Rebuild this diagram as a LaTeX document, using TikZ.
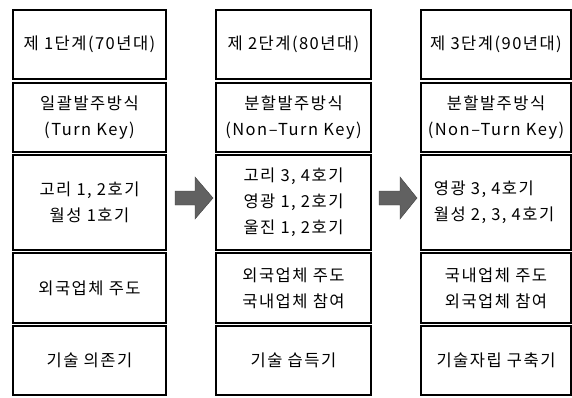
\documentclass[tikz,border=0pt]{standalone}
\usepackage{fontspec}
\setmainfont{Noto Sans CJK KR}[LetterSpace=9]
\usetikzlibrary{positioning}
\begin{document}
\begin{tikzpicture}[x=1pt,y=-1pt,
  box/.style={draw=black, line width=1.7pt, rectangle, inner sep=0pt, align=center,
    font=\fontsize{16.5}{26}\selectfont},
  blockarrow/.style={fill=black!62, draw=black!75, line width=0.4pt}]
\useasboundingbox (0,0) rectangle (572,397);
% column 1
\node[box, minimum width=153pt, minimum height=69pt] (c1r1) at (89.5,44.5) {제 1단계(70년대)};
\node[box, minimum width=153pt, minimum height=69pt] (c1r2) at (89.5,117.5) {일괄발주방식\\(Turn Key)};
\node[box, minimum width=153pt, minimum height=95pt] (c1r3) at (89.5,202.5) {고리 1, 2호기\\월성 1호기};
\node[box, minimum width=153pt, minimum height=70pt] (c1r4) at (89.5,288) {외국업체 주도};
\node[box, minimum width=153pt, minimum height=69pt] (c1r5) at (89.5,360.5) {기술 의존기};
% column 2
\node[box, minimum width=155pt, minimum height=69pt] (c2r1) at (293.5,44.5) {제 2단계(80년대)};
\node[box, minimum width=155pt, minimum height=69pt] (c2r2) at (293.5,117.5) {분할발주방식\\(Non–Turn Key)};
\node[box, minimum width=155pt, minimum height=95pt] (c2r3) at (293.5,202.5) {고리 3, 4호기\\영광 1, 2호기\\울진 1, 2호기};
\node[box, minimum width=155pt, minimum height=70pt] (c2r4) at (293.5,288) {외국업체 주도\\국내업체 참여};
\node[box, minimum width=155pt, minimum height=69pt] (c2r5) at (293.5,360.5) {기술 습득기};
% column 3
\node[box, minimum width=150pt, minimum height=69pt] (c3r1) at (496,44.5) {제 3단계(90년대)};
\node[box, minimum width=150pt, minimum height=69pt] (c3r2) at (496,117.5) {분할발주방식\\(Non–Turn Key)};
\node[box, minimum width=150pt, minimum height=95pt] (c3r3) at (496,202.5) {};
\node[box, draw=none, align=left, anchor=west] (c3r3t) at (433,202.5) {영광 3, 4호기\\월성 2, 3, 4호기};
\node[box, minimum width=150pt, minimum height=70pt] (c3r4) at (496,288) {국내업체 주도\\외국업체 참여};
\node[box, minimum width=150pt, minimum height=69pt] (c3r5) at (496,360.5) {기술자립 구축기};
% block arrows
\coordinate (a1) at (175,198);
\coordinate (a2) at (379,198);
\fill[blockarrow] (a1) ++(0,-7) -- ++(20,0) -- ++(0,-14) -- ++(18,21) -- ++(-18,21) -- ++(0,-14) -- ++(-20,0) -- cycle;
\fill[blockarrow] (a2) ++(0,-7) -- ++(21,0) -- ++(0,-14) -- ++(17,21) -- ++(-17,21) -- ++(0,-14) -- ++(-21,0) -- cycle;
\end{tikzpicture}
\end{document}
